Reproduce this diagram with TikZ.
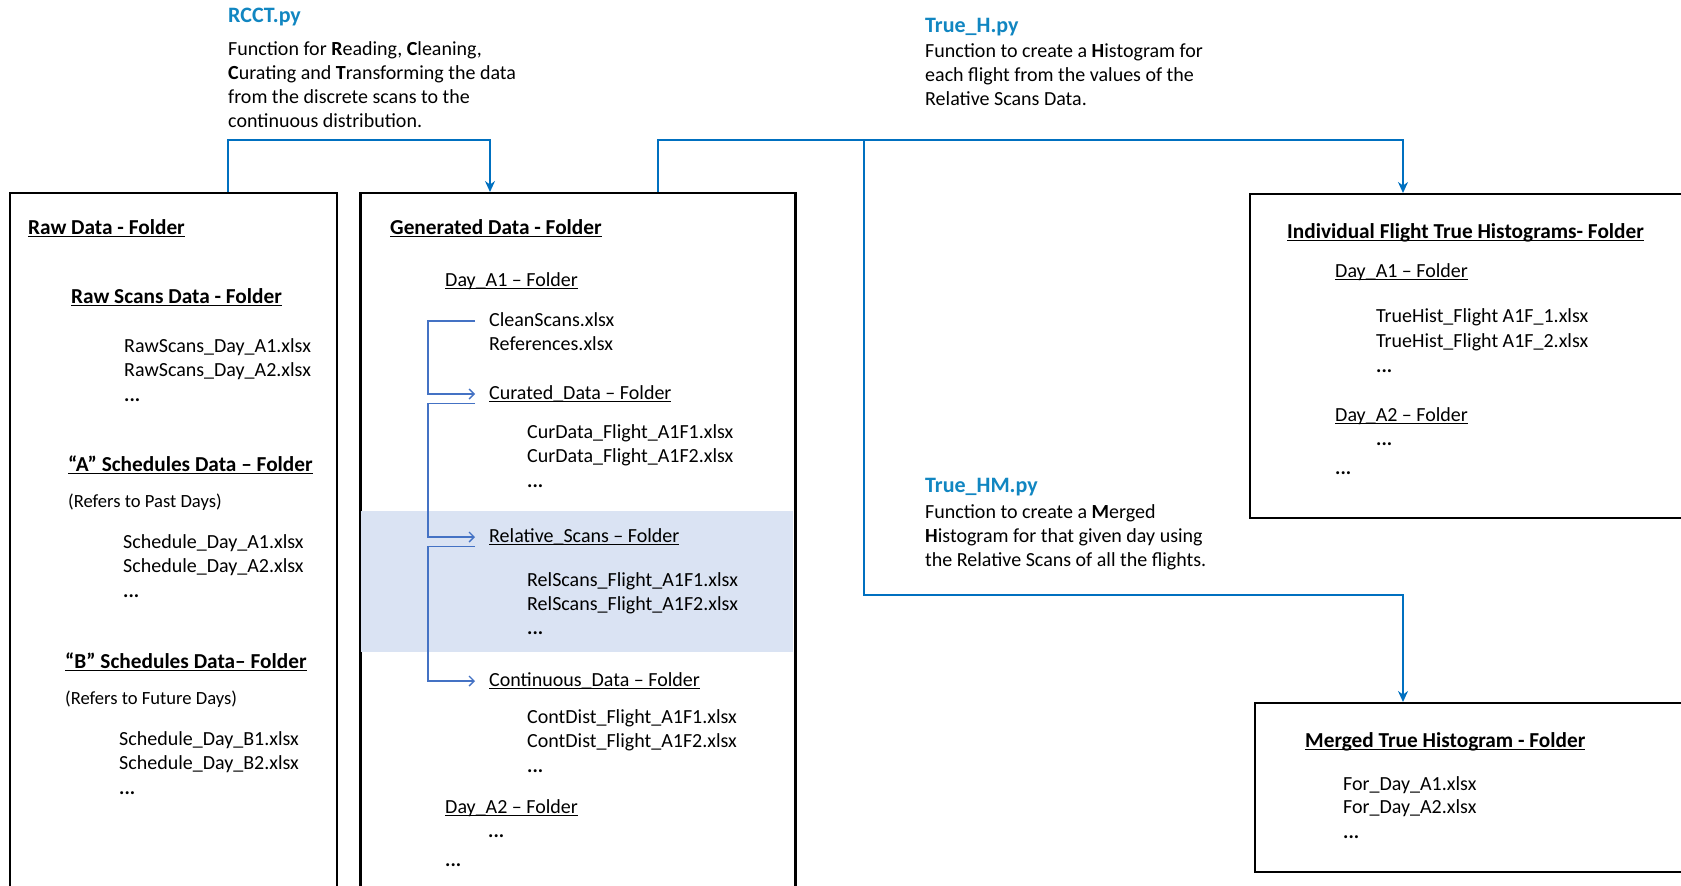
\documentclass[tikz,border=0pt]{standalone}
\usepackage{fontspec}
\setmainfont{Carlito}
\usetikzlibrary{arrows.meta}
\newcommand{\myul}[1]{\setbox0\hbox{#1}\rlap{\rule[-3.2pt]{\wd0}{1.2pt}}\box0}
\definecolor{titleblue}{RGB}{17,134,193}
\definecolor{connblue}{RGB}{0,112,192}
\definecolor{treeblue}{RGB}{68,114,196}
\definecolor{band}{RGB}{218,227,243}
\newcommand{\dd}{\textbf{...}}
\begin{document}
\begin{tikzpicture}[x=1pt,y=-1pt,
  txt/.style={anchor=base west, inner sep=0pt, text height=14pt, text depth=4pt, font=\fontsize{20}{24}\selectfont},
  small/.style={txt, font=\fontsize{18.6}{22}\selectfont},
  head/.style={txt, font=\fontsize{21.3}{25}\selectfont\bfseries},
  ftitle/.style={anchor=base west, inner sep=0pt, text=titleblue, font=\fontsize{22}{26}\selectfont\bfseries},
  folder/.style={draw=black, line width=2.2pt, fill=white, rectangle, inner sep=0pt, anchor=north west},
  conn/.style={draw=connblue, line width=1.6pt},
  arr/.style={conn, -{Stealth[length=11pt,width=10pt]}},
  tree/.style={draw=treeblue, line width=1.4pt, -{Straight Barb[length=5pt,width=10pt]}}
]
\useasboundingbox (0,0) rectangle (1681,886);
\begin{scope}
\clip (0,0) rectangle (1681,886);
% boxes
\node[folder, minimum width=327pt, minimum height=720pt] (raw) at (8.6,192) {};
\node[folder, minimum width=434pt, minimum height=720pt] (gen) at (360,192) {};
\fill[band] (361.2,511) rectangle (792.8,652);
\draw[black, line width=2.2pt] (gen.north east) -- (gen.south east);
\draw[black, line width=2.2pt] (gen.north west) -- (gen.south west);
\node[folder, minimum width=460pt, minimum height=324pt] (ind) at (1249,193) {};
\node[folder, minimum width=460pt, minimum height=169pt] (mer) at (1254,702) {};
\end{scope}

% script descriptions
\node[ftitle] (rcct) at (228,23) {RCCT.py};
\node[txt] (rcct1) at (228,55) {Function for \textbf{R}eading, \textbf{C}leaning,};
\node[txt] (rcct2) at (228,79) {\textbf{C}urating and \textbf{T}ransforming the data};
\node[txt] (rcct3) at (228,103) {from the discrete scans to the};
\node[txt] (rcct4) at (228,127) {continuous distribution.};

\node[ftitle] (trueh) at (925,32) {True\_H.py};
\node[txt] (trueh1) at (925,57) {Function to create a \textbf{H}istogram for};
\node[txt] (trueh2) at (925,81) {each flight from the values of the};
\node[txt] (trueh3) at (925,105) {Relative Scans Data.};

\node[ftitle] (truehm) at (925,492) {True\_HM.py};
\node[txt] (truehm1) at (925,518) {Function to create a \textbf{M}erged};
\node[txt] (truehm2) at (925,542) {\textbf{H}istogram for that given day using};
\node[txt] (truehm3) at (925,566) {the Relative Scans of all the flights.};

% Raw data box content
\node[head] (rawt) at (28,234) {\myul{Raw Data - Folder}};
\node[head] (rsd) at (71,303) {\myul{Raw Scans Data - Folder}};
\node[txt] (rs1) at (124,352) {RawScans\_Day\_A1.xlsx};
\node[txt] (rs2) at (124,376) {RawScans\_Day\_A2.xlsx};
\node[txt] (rs3) at (124,401) {\dd};
\node[head] (asd) at (68,471) {\myul{“A” Schedules Data – Folder}};
\node[small] (asn) at (68,507) {(Refers to Past Days)};
\node[txt] (as1) at (123,548) {Schedule\_Day\_A1.xlsx};
\node[txt] (as2) at (123,572) {Schedule\_Day\_A2.xlsx};
\node[txt] (as3) at (123,597) {\dd};
\node[head] (bsd) at (65,668) {\myul{“B” Schedules Data– Folder}};
\node[small] (bsn) at (65,704) {(Refers to Future Days)};
\node[txt] (bs1) at (119,745) {Schedule\_Day\_B1.xlsx};
\node[txt] (bs2) at (119,769) {Schedule\_Day\_B2.xlsx};
\node[txt] (bs3) at (119,794) {\dd};

% Generated data box content
\node[head] (gent) at (390,234) {\myul{Generated Data - Folder}};
\node[txt] (day1) at (445,286) {\myul{Day\_A1 – Folder}};
\node[txt] (clean) at (489,326) {CleanScans.xlsx};
\node[txt] (refs) at (489,350) {References.xlsx};
\node[txt] (curated) at (489,399) {\myul{Curated\_Data – Folder}};
\node[txt] (cd1) at (527,438) {CurData\_Flight\_A1F1.xlsx};
\node[txt] (cd2) at (527,462) {CurData\_Flight\_A1F2.xlsx};
\node[txt] (cd3) at (527,487) {\dd};
\node[txt] (relscans) at (489,542) {\myul{Relative\_Scans – Folder}};
\node[txt] (rl1) at (527,586) {RelScans\_Flight\_A1F1.xlsx};
\node[txt] (rl2) at (527,610) {RelScans\_Flight\_A1F2.xlsx};
\node[txt] (rl3) at (527,634) {\dd};
\node[txt] (contdata) at (489,686) {\myul{Continuous\_Data – Folder}};
\node[txt] (ct1) at (527,723) {ContDist\_Flight\_A1F1.xlsx};
\node[txt] (ct2) at (527,747) {ContDist\_Flight\_A1F2.xlsx};
\node[txt] (ct3) at (527,772) {\dd};
\node[txt] (day2) at (445,813) {\myul{Day\_A2 – Folder}};
\node[txt] (d2dots) at (488,837) {\dd};
\node[txt] (gdots) at (445,866) {\dd};

% Individual histograms box content
\node[head] (indt) at (1287,238) {\myul{Individual Flight True Histograms- Folder}};
\node[txt] (iday1) at (1335,277) {\myul{Day\_A1 – Folder}};
\node[txt] (th1) at (1376,322) {TrueHist\_Flight A1F\_1.xlsx};
\node[txt] (th2) at (1376,347) {TrueHist\_Flight A1F\_2.xlsx};
\node[txt] (th3) at (1376,372) {\dd};
\node[txt] (iday2) at (1335,421) {\myul{Day\_A2 – Folder}};
\node[txt] (id2dots) at (1376,445) {\dd};
\node[txt] (idots) at (1335,474) {\dd};

% Merged histogram box content
\node[head] (mert) at (1305,747) {\myul{Merged True Histogram - Folder}};
\node[txt] (fd1) at (1343,790) {For\_Day\_A1.xlsx};
\node[txt] (fd2) at (1343,813) {For\_Day\_A2.xlsx};
\node[txt] (fd3) at (1343,838) {\dd};

% tree connectors
\draw[tree] ([xshift=-14pt]clean.west) -- ++(-47,0) |- ([xshift=-14pt]curated.west);
\draw[tree] ([xshift=-14pt]curated.south west) -- ++(-47,0) |- ([xshift=-14pt]relscans.west);
\draw[tree] ([xshift=-14pt]relscans.south west) -- ++(-47,0) |- ([xshift=-14pt]contdata.west);

% main connectors
\coordinate (jA) at (228,140);
\coordinate (jB) at (490,140);
\coordinate (jC) at (658,140);
\coordinate (jD) at (1403,140);
\coordinate (jE) at (864,140);
\coordinate (jF) at (864,595);
\coordinate (jG) at (1403,595);
\draw[arr] (raw.north -| jA) -- (jA) -- (jB) -- (gen.north -| jB);
\draw[arr] (gen.north -| jC) -- (jC) -- (jD) -- (ind.north -| jD);
\draw[arr] (jE) -- (jF) -- (jG) -- (mer.north -| jG);
\end{tikzpicture}
\end{document}
